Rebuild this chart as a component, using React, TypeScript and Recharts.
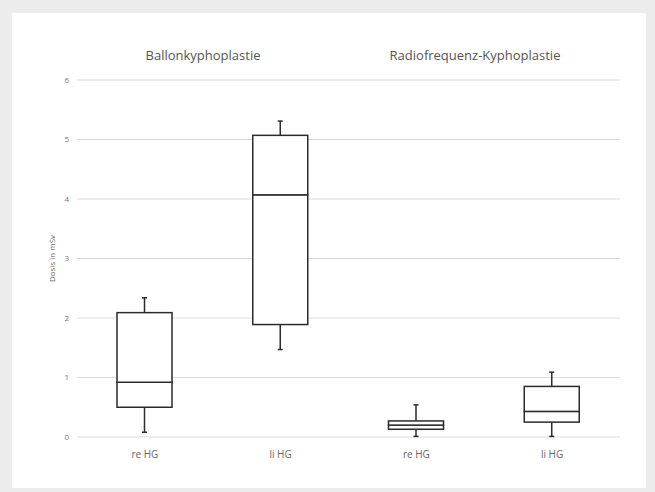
import { ComposedChart, Bar, XAxis, YAxis, CartesianGrid, Label } from 'recharts';

// values, dose in mSv
const categories = ['re HG', 'li HG', 're HG', 'li HG'];
const groupTitles = ['Ballonkyphoplastie', 'Radiofrequenz-Kyphoplastie'];
const yTicks = [0, 1, 2, 3, 4, 5, 6];

const mins = [0.08, 1.47, 0.01, 0.01];
const q1s = [0.5, 1.89, 0.13, 0.25];
const medians = [0.92, 4.07, 0.2, 0.43];
const q3s = [2.09, 5.07, 0.27, 0.85];
const maxs = [2.34, 5.31, 0.54, 1.09];

// stacked segments: invisible base, lower whisker, lower box, upper box, upper whisker
const data = categories.map((name, i) => ({
  key: `c${i}`,
  name,
  base: mins[i],
  lowWhisker: q1s[i] - mins[i],
  lowBox: medians[i] - q1s[i],
  highBox: q3s[i] - medians[i],
  highWhisker: maxs[i] - q3s[i],
}));

const INK = '#2b2b2b';
const CAP = 2.5;

const LowWhisker = (props: any) => {
  const { x, y, width, height } = props;
  const cx = x + width / 2;
  return (
    <g>
      <line x1={cx} x2={cx} y1={y} y2={y + height} stroke={INK} strokeWidth={1.5} />
      <line x1={cx - CAP} x2={cx + CAP} y1={y + height} y2={y + height} stroke={INK} strokeWidth={1.5} />
    </g>
  );
};

const HighWhisker = (props: any) => {
  const { x, y, width, height } = props;
  const cx = x + width / 2;
  return (
    <g>
      <line x1={cx} x2={cx} y1={y} y2={y + height} stroke={INK} strokeWidth={1.5} />
      <line x1={cx - CAP} x2={cx + CAP} y1={y} y2={y} stroke={INK} strokeWidth={1.5} />
    </g>
  );
};

const BoxPart = (props: any) => {
  const { x, y, width, height } = props;
  return <rect x={x} y={y} width={width} height={Math.max(height, 0)} fill="#fff" stroke={INK} strokeWidth={1.5} />;
};

const font = '"Open Sans", "Noto Sans", sans-serif';

export default function App() {
  return (
    <div style={{ position: 'absolute', left: 0, top: 0, width: 655, height: 492, background: '#ececec', fontFamily: font }}>
      <div style={{ position: 'absolute', left: 12, top: 13, width: 634, height: 475, background: '#fff' }}>
        {/* group titles */}
        <div style={{ position: 'absolute', left: 191, top: 33, width: 0, display: 'flex', justifyContent: 'center' }}>
          <span style={{ whiteSpace: 'nowrap', fontSize: 13, color: '#555' }}>{groupTitles[0]}</span>
        </div>
        <div style={{ position: 'absolute', left: 463, top: 33, width: 0, display: 'flex', justifyContent: 'center' }}>
          <span style={{ whiteSpace: 'nowrap', fontSize: 13, color: '#555' }}>{groupTitles[1]}</span>
        </div>
        <ComposedChart
          width={634}
          height={475}
          data={data}
          margin={{ top: 67, right: 26, bottom: 21, left: 0 }}
          barCategoryGap="30%"
        >
          <CartesianGrid vertical={false} stroke="#dadada" strokeWidth={1} />
          <XAxis
            dataKey="key"
            tickFormatter={(v: string) => data.find((d) => d.key === v)?.name ?? ''}
            axisLine={false}
            tickLine={false}
            height={30}
            tick={{ fontSize: 10, fill: '#666', fontFamily: font }}
            dy={6}
          />
          <YAxis
            domain={[0, 6]}
            ticks={yTicks}
            width={65}
            axisLine={false}
            tickLine={false}
            tick={{ fontSize: 8, fill: '#777', fontFamily: font }}
          >
            <Label
              value="Dosis in mSv"
              angle={-90}
              position="insideLeft"
              offset={40}
              style={{ fontSize: 8, fill: '#666', fontFamily: font, textAnchor: 'middle' }}
            />
          </YAxis>
          <Bar dataKey="base" stackId="a" fill="transparent" barSize={55} isAnimationActive={false} />
          <Bar dataKey="lowWhisker" stackId="a" shape={<LowWhisker />} barSize={55} isAnimationActive={false} />
          <Bar dataKey="lowBox" stackId="a" shape={<BoxPart />} barSize={55} isAnimationActive={false} />
          <Bar dataKey="highBox" stackId="a" shape={<BoxPart />} barSize={55} isAnimationActive={false} />
          <Bar dataKey="highWhisker" stackId="a" shape={<HighWhisker />} barSize={55} isAnimationActive={false} />
        </ComposedChart>
      </div>
    </div>
  );
}
